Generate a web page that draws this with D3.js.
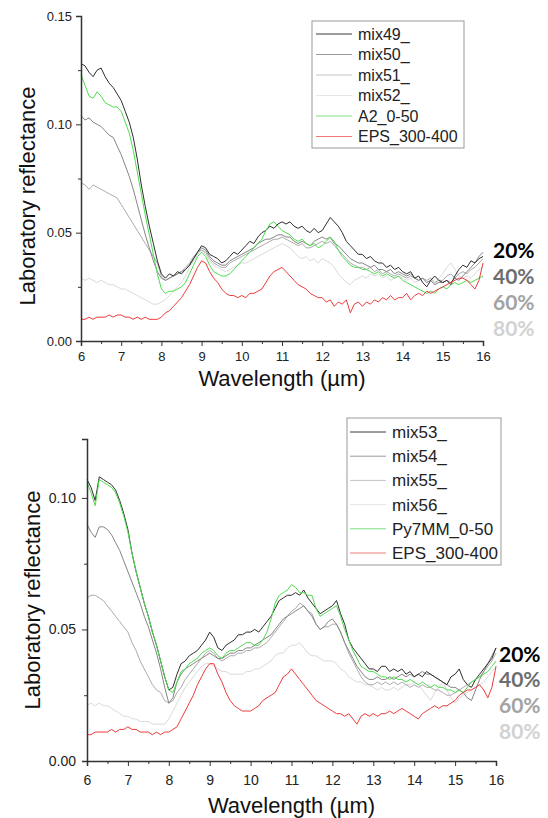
<!DOCTYPE html>
<html>
<head>
<meta charset="utf-8">
<script src="https://cdn.jsdelivr.net/npm/d3@7"></script>
<style>
  body { margin: 0; background: #fff; }
  svg { display: block; }
  .tick text { font-family: "Liberation Sans", Arial, sans-serif; fill: #222; }
  .axis path, .axis line { stroke: #333; }
</style>
</head>
<body>
<svg id="chart" width="548" height="818"></svg>
<script>
// wavelength grid (µm), shared by both panels
const wavelength = [
  6.0, 6.1, 6.2, 6.3, 6.4, 6.5, 6.6, 6.7, 6.8, 6.9, 7.0, 7.1, 7.2, 7.3, 7.4, 7.5, 7.6, 7.7, 7.8, 7.9,
  8.0, 8.1, 8.2, 8.3, 8.4, 8.5, 8.6, 8.7, 8.8, 8.9, 9.0, 9.1, 9.2, 9.3, 9.4, 9.5, 9.6, 9.7, 9.8, 9.9,
  10.0, 10.1, 10.2, 10.3, 10.4, 10.5, 10.6, 10.7, 10.8, 10.9, 11.0, 11.1, 11.2, 11.3, 11.4, 11.5, 11.6, 11.7, 11.8, 11.9,
  12.0, 12.1, 12.2, 12.3, 12.4, 12.5, 12.6, 12.7, 12.8, 12.9, 13.0, 13.1, 13.2, 13.3, 13.4, 13.5, 13.6, 13.7, 13.8, 13.9,
  14.0, 14.1, 14.2, 14.3, 14.4, 14.5, 14.6, 14.7, 14.8, 14.9, 15.0, 15.1, 15.2, 15.3, 15.4, 15.5, 15.6, 15.7, 15.8, 15.9, 16.0
];

// ---- top panel (A2_0-50 mixtures)
const mix49 = [
  .128,.127,.124,.122,.125,.126,.122,.119,.117,.114, .111,.106,.101,.094,.084,.072,.062,.053,.045,.037,
  .031,.029,.031,.030,.032,.031,.033,.035,.038,.041, .044,.043,.040,.039,.038,.036,.037,.039,.041,.040,
  .042,.044,.046,.045,.048,.050,.051,.053,.052,.054, .055,.054,.055,.053,.052,.053,.051,.050,.052,.050,
  .051,.054,.057,.055,.053,.050,.046,.044,.042,.040, .040,.038,.039,.037,.036,.036,.034,.035,.033,.034,
  .032,.031,.032,.029,.030,.027,.025,.028,.030,.028, .027,.028,.026,.030,.033,.035,.034,.037,.036,.038,.039
];
const mix50 = [
  .104,.102,.103,.101,.100,.099,.097,.095,.094,.090, .086,.081,.076,.070,.063,.056,.049,.043,.037,.032,
  .029,.028,.029,.030,.031,.032,.033,.035,.038,.041, .043,.042,.039,.037,.036,.035,.035,.037,.038,.039,
  .040,.041,.042,.043,.045,.046,.047,.047,.048,.049, .049,.048,.048,.046,.045,.046,.045,.044,.046,.047,
  .048,.047,.048,.045,.044,.042,.040,.038,.037,.036, .036,.035,.034,.035,.033,.033,.032,.033,.031,.032,
  .031,.030,.031,.029,.028,.029,.027,.028,.026,.027, .027,.028,.027,.029,.028,.030,.032,.034,.036,.039,.041
];
const mix51 = [
  .073,.072,.070,.072,.071,.070,.069,.068,.067,.066, .063,.060,.057,.054,.051,.048,.045,.042,.039,.036,
  .030,.028,.029,.030,.031,.032,.034,.036,.039,.041, .042,.041,.038,.036,.035,.034,.034,.036,.037,.038,
  .039,.040,.041,.042,.043,.044,.045,.046,.047,.047, .048,.047,.046,.045,.044,.045,.043,.043,.044,.045,
  .046,.045,.046,.044,.042,.040,.038,.036,.035,.034, .034,.033,.034,.032,.033,.031,.032,.031,.030,.031,
  .030,.029,.030,.029,.028,.029,.028,.029,.027,.028, .028,.030,.031,.029,.031,.032,.031,.033,.034,.036,.038
];
const mix52 = [
  .029,.028,.029,.028,.027,.028,.027,.026,.026,.025, .024,.024,.023,.022,.021,.020,.019,.018,.017,.017,
  .018,.019,.021,.023,.025,.027,.030,.034,.037,.040, .042,.040,.037,.035,.034,.033,.032,.033,.034,.035,
  .036,.036,.037,.038,.039,.040,.041,.042,.043,.044, .045,.044,.043,.041,.039,.038,.039,.037,.038,.036,
  .038,.037,.036,.034,.031,.029,.027,.026,.028,.029, .030,.029,.031,.030,.031,.029,.030,.028,.029,.030,
  .029,.028,.029,.027,.028,.029,.027,.028,.026,.029, .031,.034,.036,.033,.030,.029,.030,.029,.031,.033,.034
];
const a2_0_50 = [
  .123,.118,.113,.112,.115,.113,.110,.109,.108,.108, .106,.101,.096,.088,.078,.068,.058,.049,.040,.031,
  .024,.022,.023,.023,.024,.025,.027,.031,.035,.039, .041,.039,.035,.032,.031,.030,.030,.031,.033,.035,
  .037,.039,.041,.043,.045,.047,.051,.054,.055,.053, .051,.050,.049,.047,.046,.047,.045,.044,.045,.043,
  .044,.046,.048,.046,.042,.039,.037,.035,.034,.034, .033,.033,.032,.031,.032,.030,.031,.030,.029,.030,
  .028,.027,.026,.025,.024,.023,.022,.023,.022,.024, .025,.024,.026,.027,.026,.027,.028,.027,.028,.029,.030
];
const epsTop = [
  .010,.010,.011,.010,.011,.011,.011,.012,.011,.012, .012,.011,.011,.010,.011,.010,.011,.010,.010,.010,
  .011,.013,.014,.016,.018,.020,.023,.026,.030,.034, .037,.036,.032,.029,.027,.024,.022,.021,.021,.020,
  .021,.020,.022,.022,.023,.024,.027,.030,.032,.033, .034,.032,.030,.028,.026,.025,.024,.022,.021,.020,
  .020,.018,.019,.016,.018,.017,.019,.013,.017,.018, .016,.018,.017,.019,.018,.020,.019,.021,.019,.020,
  .020,.022,.019,.021,.022,.021,.023,.022,.023,.024, .025,.026,.027,.028,.029,.029,.028,.026,.024,.028,.036
];

// ---- bottom panel (Py7MM_0-50 mixtures)
const mix53 = [
  .107,.104,.099,.108,.107,.106,.105,.103,.099,.094, .088,.079,.072,.066,.060,.055,.049,.044,.038,.032,
  .027,.028,.033,.037,.038,.040,.041,.042,.044,.046, .049,.047,.043,.042,.044,.045,.046,.048,.048,.049,
  .049,.050,.049,.051,.053,.055,.058,.061,.062,.063, .063,.064,.063,.065,.062,.060,.058,.056,.057,.058,
  .059,.061,.056,.052,.046,.043,.041,.039,.037,.035, .035,.034,.036,.036,.034,.035,.034,.035,.033,.034,
  .032,.033,.032,.034,.033,.032,.031,.030,.029,.032, .033,.035,.031,.029,.028,.031,.033,.035,.037,.039,.043
];
const mix54 = [
  .090,.087,.085,.089,.089,.088,.086,.083,.080,.076, .072,.068,.064,.060,.055,.051,.046,.041,.035,.028,
  .022,.024,.030,.033,.035,.036,.037,.038,.039,.040, .041,.040,.039,.039,.040,.041,.041,.042,.042,.043,
  .043,.044,.045,.046,.047,.048,.050,.052,.054,.055, .056,.057,.058,.059,.057,.055,.052,.050,.051,.053,
  .054,.052,.049,.045,.042,.039,.036,.034,.032,.031, .031,.032,.031,.031,.032,.031,.032,.033,.032,.033,
  .032,.033,.034,.033,.033,.032,.031,.030,.029,.028, .028,.027,.026,.024,.023,.027,.031,.034,.037,.040,.043
];
const mix55 = [
  .062,.063,.063,.062,.061,.059,.057,.055,.053,.051, .049,.045,.042,.038,.035,.032,.029,.027,.026,.023,
  .022,.023,.026,.028,.031,.033,.035,.037,.039,.041, .042,.041,.039,.038,.039,.040,.040,.041,.041,.042,
  .042,.043,.043,.044,.045,.047,.049,.051,.053,.055, .057,.058,.060,.059,.057,.056,.052,.050,.051,.051,
  .052,.052,.049,.045,.041,.038,.035,.032,.030,.029, .029,.030,.029,.030,.029,.030,.029,.030,.029,.028,
  .029,.028,.029,.028,.028,.027,.027,.026,.025,.025, .026,.027,.028,.029,.030,.031,.032,.034,.036,.038,.041
];
const mix56 = [
  .021,.022,.021,.022,.021,.021,.020,.019,.018,.017, .017,.016,.016,.015,.015,.015,.014,.014,.014,.014,
  .016,.019,.022,.025,.028,.030,.032,.034,.036,.037, .037,.036,.035,.034,.034,.033,.033,.033,.033,.034,
  .034,.035,.035,.036,.037,.038,.040,.041,.041,.043, .044,.044,.045,.043,.041,.040,.040,.039,.038,.038,
  .038,.037,.035,.034,.032,.031,.030,.030,.029,.029, .028,.027,.028,.027,.027,.028,.027,.028,.029,.029,
  .030,.029,.027,.025,.023,.026,.028,.030,.027,.024, .022,.024,.025,.026,.027,.028,.029,.030,.032,.034,.036
];
const py7mm_0_50 = [
  .106,.102,.097,.107,.106,.105,.104,.102,.098,.093, .087,.079,.072,.066,.060,.055,.049,.044,.038,.032,
  .027,.026,.030,.034,.035,.037,.038,.039,.041,.042, .043,.042,.040,.039,.041,.042,.042,.043,.044,.045,
  .045,.044,.044,.046,.049,.054,.060,.063,.064,.065, .067,.066,.064,.064,.063,.063,.058,.055,.056,.057,
  .058,.059,.055,.050,.046,.042,.039,.036,.035,.034, .034,.033,.032,.032,.031,.032,.031,.031,.030,.031,
  .030,.029,.030,.029,.028,.029,.028,.028,.027,.027, .026,.027,.026,.028,.030,.031,.032,.033,.034,.036,.038
];
const epsBottom = [
  .010,.010,.011,.011,.011,.011,.012,.011,.012,.012, .013,.012,.012,.011,.011,.011,.010,.011,.010,.011,
  .011,.012,.013,.016,.019,.022,.025,.029,.032,.035, .037,.037,.033,.030,.026,.023,.021,.020,.019,.019,
  .019,.020,.021,.023,.024,.025,.026,.029,.032,.033, .035,.033,.031,.029,.027,.025,.023,.022,.021,.020,
  .019,.018,.018,.017,.018,.016,.014,.017,.018,.017, .018,.017,.018,.018,.019,.018,.019,.020,.019,.018,
  .017,.016,.018,.019,.020,.021,.020,.021,.021,.022, .023,.025,.026,.027,.027,.028,.029,.027,.024,.028,.036
];

const topNames    = ["mix49_", "mix50_", "mix51_", "mix52_", "A2_0-50", "EPS_300-400"];
const bottomNames = ["mix53_", "mix54_", "mix55_", "mix56_", "Py7MM_0-50", "EPS_300-400"];
const percentLabels = ["20%", "40%", "60%", "80%"];
const xTicks = [6, 7, 8, 9, 10, 11, 12, 13, 14, 15, 16];
const xMinorTicks = [6.5, 7.5, 8.5, 9.5, 10.5, 11.5, 12.5, 13.5, 14.5, 15.5];

const seriesColors  = ["#2e2e2e", "#858585", "#ababab", "#dadada", "#4fdc4f", "#ee3b3b"];
const legendColors  = ["#3a3a3a", "#9a9a9a", "#c4c4c4", "#e6e6e6", "#7de07d", "#f07a7a"];
const percentColors = ["#000000", "#6e6e6e", "#a3a3a3", "#d2d2d2"];

const svg = d3.select("#chart");

function drawPanel(p) {
  const x = d3.scaleLinear().domain([6, 16]).range([p.left, p.right]);
  const y = d3.scaleLinear().domain([0, p.yMax]).range([p.bottom, p.top]);
  const g = svg.append("g");

  // lines: lightest first so dark / coloured ones sit on top
  const line = d3.line().x((d, i) => x(wavelength[i])).y(d => y(d));
  [3, 2, 1, 0, 4, 5].forEach(k => {
    g.append("path")
      .datum(p.series[k])
      .attr("fill", "none")
      .attr("stroke", seriesColors[k])
      .attr("stroke-width", 1)
      .attr("stroke-linejoin", "round")
      .attr("d", line);
  });

  // axes (left + bottom only, ticks outward)
  g.append("g").attr("class", "axis")
    .attr("transform", `translate(0,${p.bottom})`)
    .call(d3.axisBottom(x).tickValues(xTicks).tickSize(5).tickPadding(p.xPad).tickFormat(d3.format("d")))
    .call(a => a.select(".domain").attr("stroke-width", 1.5))
    .call(a => a.selectAll("text").attr("font-size", p.tickFont));
  g.append("g").attr("class", "axis")
    .attr("transform", `translate(0,${p.bottom})`)
    .call(d3.axisBottom(x).tickValues(xMinorTicks).tickSize(3).tickFormat(""))
    .call(a => a.select(".domain").remove());

  g.append("g").attr("class", "axis")
    .attr("transform", `translate(${p.left},0)`)
    .call(d3.axisLeft(y).tickValues(p.yTicks).tickSize(5).tickPadding(p.yPad).tickFormat(d3.format(".2f")))
    .call(a => a.select(".domain").attr("stroke-width", 1.5))
    .call(a => a.selectAll("text").attr("font-size", p.tickFont));
  g.append("g").attr("class", "axis")
    .attr("transform", `translate(${p.left},0)`)
    .call(d3.axisLeft(y).tickValues(p.yMinor).tickSize(3).tickFormat(""))
    .call(a => a.select(".domain").remove());

  // axis titles
  g.append("text")
    .attr("transform", `translate(${p.yTitleX},${p.yTitleY}) rotate(-90)`)
    .attr("text-anchor", "middle")
    .attr("font-family", "Liberation Sans, Arial, sans-serif")
    .attr("font-size", 22)
    .attr("fill", "#111")
    .text("Laboratory reflectance");
  g.append("text")
    .attr("x", (p.left + p.right) / 2)
    .attr("y", p.xTitleY)
    .attr("text-anchor", "middle")
    .attr("font-family", "Liberation Sans, Arial, sans-serif")
    .attr("font-size", 22)
    .attr("fill", "#111")
    .text("Wavelength (\u00b5m)");

  // legend
  const L = p.legend;
  g.append("rect")
    .attr("x", L.x).attr("y", L.y)
    .attr("width", L.w).attr("height", L.h)
    .attr("fill", "#fff").attr("stroke", "#9a9a9a").attr("stroke-width", 1);
  const rows = g.selectAll(".leg").data(p.names).enter().append("g")
    .attr("transform", (d, i) => `translate(0,${L.y0 + i * L.step})`);
  rows.append("line")
    .attr("x1", L.lineX0).attr("x2", L.lineX1)
    .attr("stroke", (d, i) => legendColors[i]).attr("stroke-width", 1);
  rows.append("text")
    .attr("x", L.textX).attr("dy", "0.35em")
    .attr("font-family", "Liberation Sans, Arial, sans-serif")
    .attr("font-size", L.font).attr("fill", "#222")
    .text(d => d);

  // percentage annotations
  g.selectAll(".pct").data(percentLabels).enter().append("text")
    .attr("x", p.pctX)
    .attr("y", (d, i) => p.pctY0 + i * p.pctStep)
    .attr("dy", "0.36em")
    .attr("font-family", "Lato, 'Open Sans', sans-serif")
    .attr("font-weight", "bold")
    .attr("font-size", 21)
    .attr("fill", (d, i) => percentColors[i])
    .text(d => d);
}

drawPanel({
  series: [mix49, mix50, mix51, mix52, a2_0_50, epsTop],
  names: topNames,
  left: 81, right: 483, top: 16, bottom: 341,
  yMax: 0.15, yTicks: [0, 0.05, 0.10, 0.15], yMinor: [0.025, 0.075, 0.125],
  tickFont: 13, xPad: 6, yPad: 4,
  yTitleX: 35, yTitleY: 196, xTitleY: 386,
  legend: { x: 312, y: 21, w: 152, h: 127, y0: 34, step: 20.5, lineX0: 316, lineX1: 352, textX: 358, font: 16 },
  pctX: 493, pctY0: 250, pctStep: 26.3
});

drawPanel({
  series: [mix53, mix54, mix55, mix56, py7mm_0_50, epsBottom],
  names: bottomNames,
  left: 87, right: 496, top: 439, bottom: 761,
  yMax: 0.1224, yTicks: [0, 0.05, 0.10], yMinor: [0.025, 0.075, 0.1224],
  tickFont: 14, xPad: 9, yPad: 6,
  yTitleX: 40, yTitleY: 600, xTitleY: 813,
  legend: { x: 347, y: 418, w: 154, h: 147, y0: 432, step: 24.2, lineX0: 350, lineX1: 386, textX: 392, font: 17 },
  pctX: 499, pctY0: 654, pctStep: 25.7
});
</script>
</body>
</html>
